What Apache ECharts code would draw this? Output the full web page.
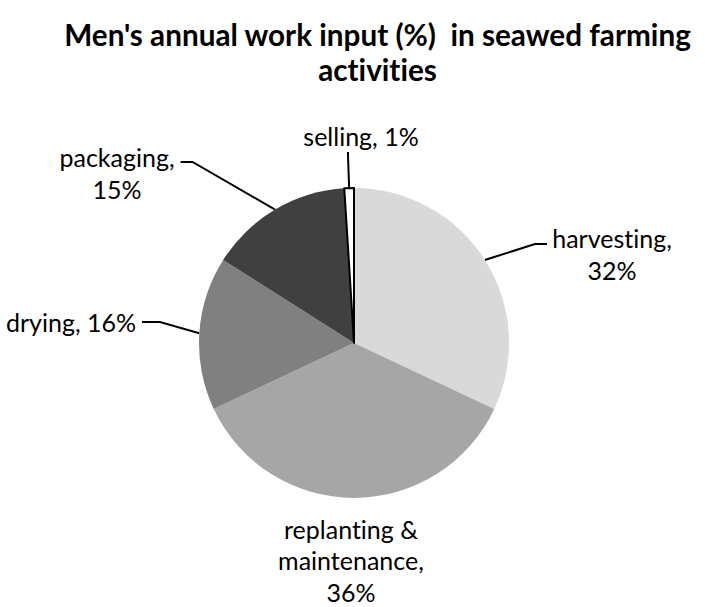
<!DOCTYPE html>
<html>
<head>
<meta charset="utf-8">
<script src="https://cdn.jsdelivr.net/npm/echarts@6/dist/echarts.min.js"></script>
<style>
  html, body { margin: 0; padding: 0; background: #ffffff; }
  #chart { width: 705px; height: 607px; }
  /* plain letter forms, no "ti" ligatures */
  #chart svg text { font-variant-ligatures: none; font-feature-settings: "liga" 0, "clig" 0; }
</style>
</head>
<body>
<div id="chart"></div>
<script>
// Activities, listed clockwise from 12 o'clock
const categories = ['harvesting', 'replanting & maintenance', 'drying', 'packaging', 'selling'];
// Share of men's annual work input, in percent
const shares = [32, 36, 16, 15, 1];
// Text shown in each data label (line breaks as drawn)
const labelNames = ['harvesting,\n', 'replanting &\nmaintenance,\n', 'drying, ', 'packaging,\n', 'selling, '];

// Grey scale fills, one per slice
const sliceColors = ['#d9d9d9', '#a6a6a6', '#808080', '#404040', '#ffffff'];
// Label boxes: [x, y, horizontal alignment, vertical alignment, padding [t, r, b, l], leader tail length, line height]
// Padding keeps a small gap to the leader line and moves its attachment point.
const labelSpots = [
  [609.5, 202, 'center', 'top', [20, 0, 0, 5], 12, 32],
  [351, 560, 'center', 'middle', [0, 0, 0, 0], 0, 31.5],
  [142, 322, 'right', 'middle', [0, 6, 0, 0], 18, 32],
  [120, 119, 'center', 'top', [22, 6, 0, 0], 12, 32],
  [348, 136, 'center', 'middle', [0, 0, 0, 26], 4, 32]
];

const FONT = 'Lato, "Open Sans", sans-serif';

const chart = echarts.init(document.getElementById('chart'), null, { renderer: 'svg' });

const data = categories.map((name, i) => {
  const item = {
    name: name,
    value: shares[i],
    itemStyle: { color: sliceColors[i] },
    label: { padding: labelSpots[i][4], lineHeight: labelSpots[i][6] },
    labelLine: { show: i !== 1, length2: labelSpots[i][5] }
  };
  if (i === 4) {
    item.itemStyle.borderColor = '#000000';
    item.itemStyle.borderWidth = 2;
  }
  return item;
});

chart.setOption({
  backgroundColor: '#ffffff',
  animation: false,
  title: {
    text: "Men's annual work input (%)  in seawed farming\nactivities",
    left: 372.5,
    top: 12,
    textAlign: 'center',
    textStyle: {
      fontFamily: FONT,
      fontWeight: 'bold',
      fontSize: 29.7,
      lineHeight: 35,
      color: '#000000'
    }
  },
  series: [{
    type: 'pie',
    center: [354, 343],
    radius: 155,
    startAngle: 90,
    clockwise: true,
    avoidLabelOverlap: false,
    emphasis: { disabled: true },
    silent: true,
    data: data,
    itemStyle: { borderWidth: 0 },
    label: {
      show: true,
      position: 'outside',
      fontFamily: FONT,
      fontSize: 25,
      lineHeight: 32,
      color: '#000000',
      formatter: p => labelNames[p.dataIndex] + p.value + '%'
    },
    labelLine: {
      show: true,
      length: 20,
      length2: 12,
      smooth: false,
      lineStyle: { color: '#000000', width: 2 }
    },
    labelLayout: p => {
      const s = labelSpots[p.dataIndex];
      return { x: s[0], y: s[1], align: s[2], verticalAlign: s[3] };
    }
  }]
});
</script>
</body>
</html>
